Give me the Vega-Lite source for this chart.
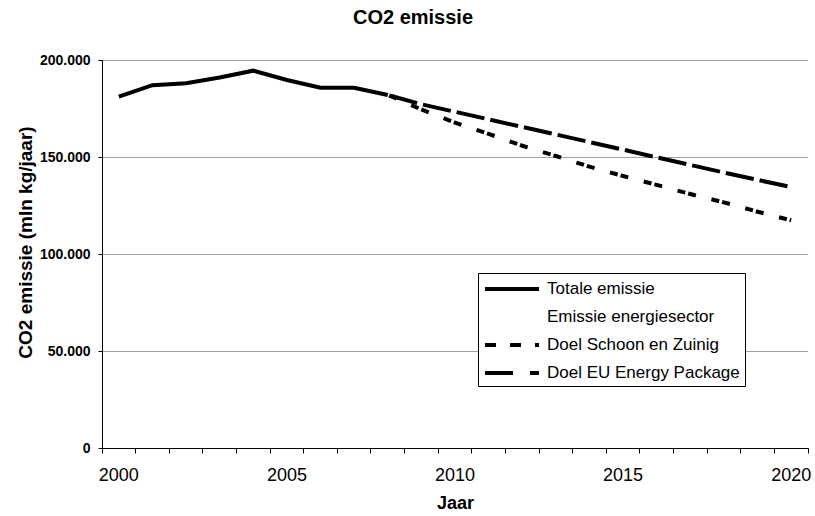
{
  "$schema": "https://vega.github.io/schema/vega-lite/v6.json",
  "width": 706,
  "height": 388,
  "autosize": {"type": "none"},
  "padding": {"left": 102, "top": 60, "right": 7, "bottom": 68},
  "background": "white",
  "title": {
    "text": "CO2 emissie",
    "font": "Liberation Sans",
    "fontSize": 20,
    "fontWeight": "bold",
    "color": "black",
    "anchor": "middle",
    "offset": 25,
    "dx": -42
  },
  "data": {
    "values": [
      {"year": 2000, "series": "Totale emissie", "value": 181100},
      {"year": 2001, "series": "Totale emissie", "value": 187000},
      {"year": 2002, "series": "Totale emissie", "value": 188000},
      {"year": 2003, "series": "Totale emissie", "value": 191000},
      {"year": 2004, "series": "Totale emissie", "value": 194500},
      {"year": 2005, "series": "Totale emissie", "value": 189700},
      {"year": 2006, "series": "Totale emissie", "value": 185700},
      {"year": 2007, "series": "Totale emissie", "value": 185700},
      {"year": 2008, "series": "Totale emissie", "value": 182000},
      {"year": 2008, "series": "Doel Schoon en Zuinig", "value": 182000},
      {"year": 2009, "series": "Doel Schoon en Zuinig", "value": 174500},
      {"year": 2010, "series": "Doel Schoon en Zuinig", "value": 167700},
      {"year": 2011, "series": "Doel Schoon en Zuinig", "value": 161900},
      {"year": 2012, "series": "Doel Schoon en Zuinig", "value": 155800},
      {"year": 2013, "series": "Doel Schoon en Zuinig", "value": 150500},
      {"year": 2014, "series": "Doel Schoon en Zuinig", "value": 145000},
      {"year": 2015, "series": "Doel Schoon en Zuinig", "value": 140200},
      {"year": 2016, "series": "Doel Schoon en Zuinig", "value": 135600},
      {"year": 2017, "series": "Doel Schoon en Zuinig", "value": 130900},
      {"year": 2018, "series": "Doel Schoon en Zuinig", "value": 126600},
      {"year": 2019, "series": "Doel Schoon en Zuinig", "value": 121800},
      {"year": 2020, "series": "Doel Schoon en Zuinig", "value": 117300},
      {"year": 2008, "series": "Doel EU Energy Package", "value": 182000},
      {"year": 2009, "series": "Doel EU Energy Package", "value": 177200},
      {"year": 2010, "series": "Doel EU Energy Package", "value": 173300},
      {"year": 2011, "series": "Doel EU Energy Package", "value": 169400},
      {"year": 2012, "series": "Doel EU Energy Package", "value": 165500},
      {"year": 2013, "series": "Doel EU Energy Package", "value": 161600},
      {"year": 2014, "series": "Doel EU Energy Package", "value": 157700},
      {"year": 2015, "series": "Doel EU Energy Package", "value": 153800},
      {"year": 2016, "series": "Doel EU Energy Package", "value": 149800},
      {"year": 2017, "series": "Doel EU Energy Package", "value": 145900},
      {"year": 2018, "series": "Doel EU Energy Package", "value": 142000},
      {"year": 2019, "series": "Doel EU Energy Package", "value": 138200},
      {"year": 2020, "series": "Doel EU Energy Package", "value": 134500}
    ]
  },
  "encoding": {
    "x": {
      "field": "year",
      "type": "ordinal",
      "scale": {
        "type": "band",
        "domain": [2000, 2001, 2002, 2003, 2004, 2005, 2006, 2007, 2008, 2009, 2010, 2011, 2012, 2013, 2014, 2015, 2016, 2017, 2018, 2019, 2020],
        "paddingInner": 0,
        "paddingOuter": 0
      },
      "axis": {
        "title": "Jaar",
        "titleFont": "Liberation Sans",
        "titleFontSize": 18,
        "titleFontWeight": "bold",
        "titleColor": "black",
        "titlePadding": 10,
        "labelExpr": "datum.value % 5 === 0 ? datum.label : ''",
        "labelFont": "Liberation Sans",
        "labelFontSize": 18,
        "labelColor": "black",
        "labelAngle": 0,
        "labelOverlap": false,
        "labelFlush": false,
        "labelLimit": 200,
        "labelPadding": 13,
        "labelOffset": 0,
        "bandPosition": 1,
        "tickExtra": true,
        "tickSize": 5,
        "tickColor": "black",
        "domainColor": "black",
        "grid": false
      }
    },
    "y": {
      "field": "value",
      "type": "quantitative",
      "scale": {"domain": [0, 200000], "nice": false},
      "axis": {
        "title": "CO2 emissie (mln kg/jaar)",
        "titleFont": "Liberation Sans",
        "titleFontSize": 19,
        "titleFontWeight": "bold",
        "titleColor": "black",
        "titlePadding": 4,
        "titleY": 182,
        "values": [0, 50000, 100000, 150000, 200000],
        "labelExpr": "datum.value == 0 ? '0' : format(datum.value / 1000, 'd') + '.000'",
        "labelFont": "Liberation Sans",
        "labelFontSize": 14,
        "labelFontWeight": "bold",
        "labelColor": "black",
        "labelPadding": 8,
        "tickSize": 4,
        "tickColor": "black",
        "domainColor": "black",
        "grid": true,
        "gridColor": "#404040",
        "gridDash": [1, 1],
        "gridWidth": 1
      }
    },
    "color": {
      "field": "series",
      "type": "nominal",
      "scale": {
        "domain": ["Totale emissie", "Emissie energiesector", "Doel Schoon en Zuinig", "Doel EU Energy Package"],
        "range": ["black", "white", "black", "black"]
      },
      "legend": {
        "title": null,
        "orient": "none",
        "legendX": 376,
        "legendY": 213,
        "fillColor": "white",
        "strokeColor": "black",
        "padding": 5,
        "labelFont": "Liberation Sans",
        "labelFontSize": 17,
        "labelColor": "black",
        "labelLimit": 300,
        "labelOffset": 42,
        "symbolType": "M-1,0L5,0",
        "symbolSize": 324,
        "symbolStrokeWidth": 4,
        "symbolFillColor": "transparent",
        "rowPadding": 9,
        "encode": {
          "symbols": {
            "update": {
              "strokeDash": {"signal": "datum.value === 'Doel Schoon en Zuinig' ? [11, 14] : datum.value === 'Doel EU Energy Package' ? [28, 17] : [1, 0]"}
            }
          }
        }
      }
    }
  },
  "layer": [
    {
      "transform": [{"filter": "datum.series === 'Totale emissie'"}],
      "mark": {"type": "line", "strokeWidth": 4}
    },
    {
      "transform": [{"filter": "datum.series === 'Doel Schoon en Zuinig'"}],
      "mark": {"type": "line", "strokeWidth": 4, "strokeDash": [8, 3, 8, 16], "strokeDashOffset": 9.5}
    },
    {
      "transform": [{"filter": "datum.series === 'Doel EU Energy Package'"}],
      "mark": {"type": "line", "strokeWidth": 4, "strokeDash": [28.5, 6], "strokeDashOffset": 32.5}
    }
  ],
  "config": {
    "view": {"stroke": null},
    "font": "Liberation Sans"
  }
}
